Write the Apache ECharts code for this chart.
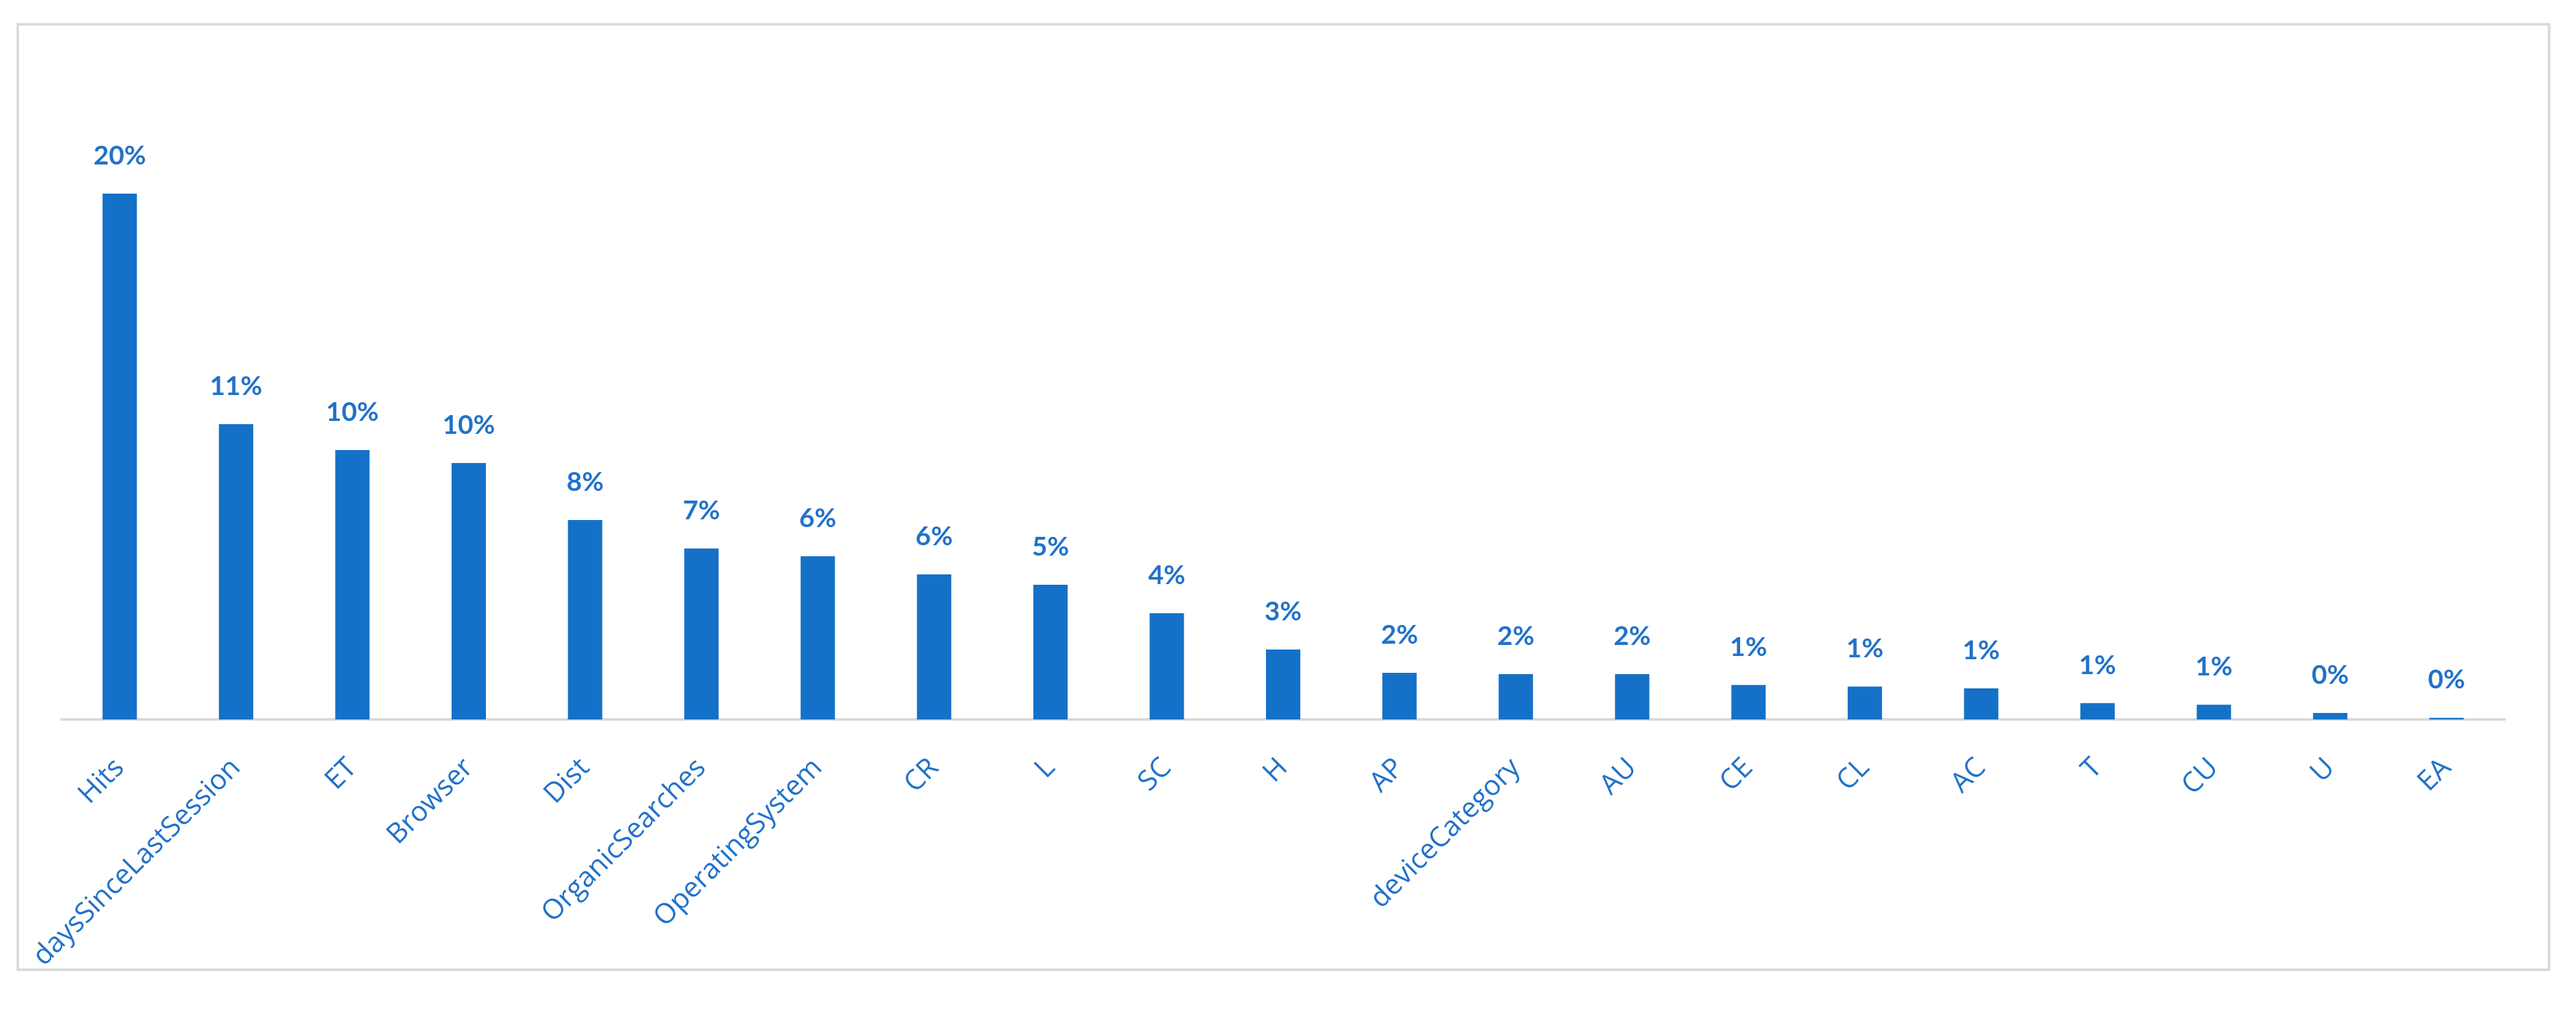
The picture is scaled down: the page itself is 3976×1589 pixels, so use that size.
<!DOCTYPE html>
<html>
<head>
<meta charset="utf-8">
<script src="https://cdn.jsdelivr.net/npm/echarts@6/dist/echarts.min.js"></script>
<style>
  html, body { margin: 0; padding: 0; background: #fff; }
  #chart { width: 3976px; height: 1589px; }
</style>
</head>
<body>
<div id="chart"></div>
<script>
// feature names, in the order they appear on the x axis
var features = ['Hits', 'daysSinceLastSession', 'ET', 'Browser', 'Dist', 'OrganicSearches',
  'OperatingSystem', 'CR', 'L', 'SC', 'H', 'AP', 'deviceCategory', 'AU', 'CE', 'CL',
  'AC', 'T', 'CU', 'U', 'EA'];

// importance in percent
var importance = [20.3, 11.4, 10.4, 9.9, 7.7, 6.6, 6.3, 5.6, 5.2, 4.1, 2.7, 1.8, 1.75,
  1.75, 1.33, 1.27, 1.2, 0.63, 0.57, 0.25, 0.06];

var barColor = '#1571c8';
var textColor = '#2272c9';

var chart = echarts.init(document.getElementById('chart'));

var option = {
  backgroundColor: '#ffffff',
  animation: false,
  // thin frame around the whole chart, like the office chart area
  graphic: [{
    type: 'rect',
    left: 25, top: 35,
    shape: { width: 3907, height: 1460 },
    style: { fill: 'none', stroke: '#d9d9d9', lineWidth: 4 },
    silent: true
  }],
  grid: { left: 95, right: 110, top: 111, bottom: 478 },
  xAxis: {
    type: 'category',
    data: features,
    axisTick: { show: false },
    axisLine: { lineStyle: { color: '#d9d9d9', width: 4 } },
    axisLabel: {
      interval: 0,
      rotate: 45,
      margin: 68,
      color: textColor,
      fontFamily: '"Open Sans", sans-serif',
      fontSize: 43
    }
  },
  yAxis: {
    type: 'value',
    min: 0,
    max: 25,
    show: false,
    splitLine: { show: false }
  },
  series: [{
    type: 'bar',
    data: importance,
    barWidth: 53,
    itemStyle: { color: barColor },
    label: {
      show: true,
      position: 'top',
      distance: 38,
      color: textColor,
      fontFamily: 'Lato, sans-serif',
      fontWeight: 'bold',
      fontSize: 41,
      formatter: function (p) { return Math.round(p.value) + '%'; }
    }
  }]
};

chart.setOption(option);
</script>
</body>
</html>
